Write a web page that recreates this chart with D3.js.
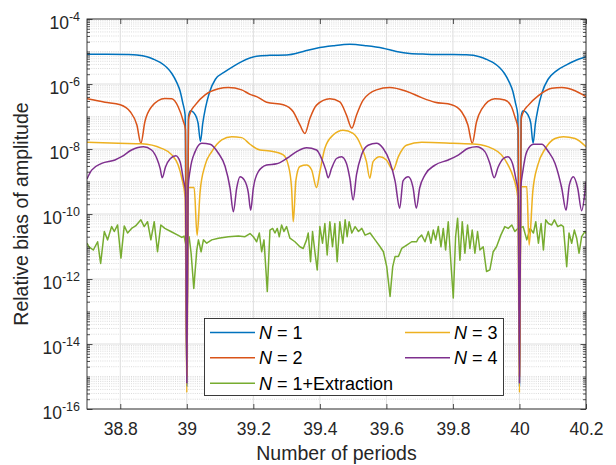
<!DOCTYPE html>
<html>
<head>
<meta charset="utf-8">
<script src="https://cdn.jsdelivr.net/npm/d3@7"></script>
<style>
  body { margin: 0; background: #fff; }
  svg { display: block; font-family: "Liberation Sans", Arial, Helvetica, sans-serif; }
</style>
</head>
<body>
<svg id="chart" width="616" height="465"></svg>
<script>
// ---- axis ticks and labels ----
const xTickValues = [38.8, 39.0, 39.2, 39.4, 39.6, 39.8, 40.0, 40.2];
const xTickLabels = ["38.8", "39", "39.2", "39.4", "39.6", "39.8", "40", "40.2"];
const yTickExponents = [-16, -14, -12, -10, -8, -6, -4];

// ---- series: [number of periods, relative bias of amplitude] ----
const seriesN1 = [
  [38.700, 8.3e-6], [38.760, 8.3e-6], [38.820, 8.1e-6], [38.850, 7.8e-6], [38.880, 6.9e-6],
  [38.900, 5.8e-6], [38.920, 4.6e-6], [38.940, 3.2e-6], [38.955, 2.1e-6], [38.970, 1.1e-6],
  [38.980, 6.0e-7], [38.988, 2.6e-7], [38.995, 1.1e-7], [39.000, 5.0e-16], [39.005, 1.0e-7],
  [39.011, 1.5e-7], [39.026, 1.1e-7], [39.034, 6.2e-8], [39.041, 1.7e-8], [39.048, 6.2e-8],
  [39.056, 1.8e-7], [39.068, 5.5e-7], [39.086, 1.4e-6], [39.115, 2.4e-6], [39.140, 3.5e-6],
  [39.165, 4.9e-6], [39.210, 7.2e-6], [39.250, 7.6e-6], [39.300, 7.8e-6], [39.350, 1.0e-5],
  [39.390, 1.26e-5], [39.440, 1.5e-5], [39.490, 1.66e-5], [39.540, 1.5e-5], [39.590, 1.26e-5],
  [39.630, 1.0e-5], [39.670, 8.7e-6], [39.720, 8.3e-6], [39.780, 8.1e-6], [39.840, 7.9e-6],
  [39.880, 6.9e-6], [39.900, 5.8e-6], [39.920, 4.6e-6], [39.940, 3.2e-6], [39.955, 2.1e-6],
  [39.970, 1.1e-6], [39.980, 6.0e-7], [39.988, 2.6e-7], [39.995, 1.1e-7], [40.000, 5.0e-16],
  [40.005, 1.0e-7], [40.011, 1.5e-7], [40.026, 1.1e-7], [40.034, 6.2e-8], [40.041, 1.5e-8],
  [40.048, 6.2e-8], [40.056, 1.8e-7], [40.068, 5.5e-7], [40.086, 1.4e-6], [40.110, 2.5e-6],
  [40.140, 3.8e-6], [40.165, 5.1e-6], [40.200, 6.9e-6]
];

const seriesN2 = [
  [38.700, 3.5e-7], [38.754, 2.75e-7], [38.800, 2.3e-7], [38.830, 1.4e-7], [38.850, 5.5e-8],
  [38.862, 1.5e-8], [38.874, 6.9e-8], [38.894, 2.0e-7], [38.934, 3.6e-7], [38.955, 3.5e-7],
  [38.974, 2.0e-7], [38.990, 6.9e-8], [38.996, 4.0e-8], [39.000, 1.0e-15], [39.005, 7.9e-8],
  [39.010, 1.26e-7], [39.025, 2.24e-7], [39.055, 4.6e-7], [39.095, 7.1e-7], [39.125, 7.8e-7],
  [39.165, 6.6e-7], [39.190, 4.8e-7], [39.210, 4.1e-7], [39.240, 2.75e-7], [39.290, 2.3e-7],
  [39.320, 1.4e-7], [39.340, 5.5e-8], [39.355, 3.0e-8], [39.370, 8.7e-8], [39.390, 2.24e-7],
  [39.430, 3.5e-7], [39.460, 2.8e-7], [39.480, 1.1e-7], [39.496, 4.4e-8], [39.510, 1.1e-7],
  [39.530, 3.2e-7], [39.570, 6.6e-7], [39.610, 7.8e-7], [39.660, 6.0e-7], [39.706, 3.8e-7],
  [39.746, 2.75e-7], [39.796, 2.3e-7], [39.826, 1.4e-7], [39.845, 5.5e-8], [39.858, 1.5e-8],
  [39.871, 6.9e-8], [39.886, 1.66e-7], [39.926, 3.5e-7], [39.956, 3.2e-7], [39.976, 2.0e-7],
  [39.986, 1.0e-7], [39.996, 4.0e-8], [40.000, 1.0e-15], [40.005, 7.9e-8], [40.010, 1.26e-7],
  [40.027, 2.24e-7], [40.057, 4.4e-7], [40.097, 7.4e-7], [40.127, 7.8e-7], [40.167, 6.2e-7],
  [40.200, 4.1e-7]
];

const seriesN3 = [
  [38.700, 1.6e-8], [38.794, 1.5e-8], [38.864, 1.45e-8], [38.924, 1.05e-8], [38.955, 6.6e-9],
  [38.974, 3.2e-9], [38.985, 1.26e-9], [38.995, 3.2e-10], [39.000, 3.2e-16], [39.005, 6.5e-10],
  [39.022, 6.5e-10], [39.031, 2.2e-11], [39.040, 4.9e-10], [39.055, 3.2e-9], [39.075, 8.3e-9],
  [39.105, 1.9e-8], [39.135, 2.4e-8], [39.165, 2.24e-8], [39.190, 1.4e-8], [39.220, 9.3e-9],
  [39.250, 8.7e-9], [39.290, 6.6e-9], [39.305, 3.2e-9], [39.315, 6.2e-10], [39.320, 5.8e-11],
  [39.328, 1.1e-9], [39.340, 2.9e-9], [39.360, 3.2e-9], [39.375, 2.3e-9], [39.390, 6.5e-10],
  [39.400, 2.0e-9], [39.415, 1.05e-8], [39.440, 2.7e-8], [39.470, 3.8e-8], [39.500, 3.0e-8],
  [39.525, 1.17e-8], [39.540, 4.1e-9], [39.550, 1.26e-9], [39.560, 4.1e-9], [39.580, 5.8e-9],
  [39.600, 4.6e-9], [39.620, 2.24e-9], [39.636, 5.8e-9], [39.660, 1.3e-8], [39.706, 1.6e-8],
  [39.800, 1.5e-8], [39.870, 1.4e-8], [39.917, 1.05e-8], [39.946, 6.6e-9], [39.966, 3.2e-9],
  [39.981, 1.4e-9], [39.995, 3.2e-10], [40.000, 3.2e-16], [40.005, 6.9e-10], [40.022, 6.9e-10],
  [40.029, 1.1e-11], [40.040, 4.9e-10], [40.055, 3.2e-9], [40.077, 1.0e-8], [40.107, 2.1e-8],
  [40.132, 2.4e-8], [40.167, 2.1e-8], [40.200, 1.17e-8]
];

const seriesN4 = [
  [38.700, 1.2e-9], [38.714, 2.24e-9], [38.744, 3.6e-9], [38.784, 4.6e-9], [38.804, 5.8e-9],
  [38.834, 9.3e-9], [38.870, 1.17e-8], [38.894, 9.3e-9], [38.910, 5.1e-9], [38.920, 2.5e-9],
  [38.926, 1.3e-9], [38.936, 2.8e-9], [38.950, 5.0e-9], [38.967, 6.2e-9], [38.980, 4.0e-9],
  [38.990, 1.1e-9], [38.996, 5.0e-10], [39.000, 6.3e-16], [39.004, 6.3e-10], [39.010, 2.24e-9],
  [39.025, 8.3e-9], [39.045, 1.5e-8], [39.070, 1.4e-8], [39.095, 7.4e-9], [39.115, 2.95e-9],
  [39.130, 6.3e-10], [39.140, 1.17e-10], [39.150, 6.3e-10], [39.160, 1.4e-9], [39.173, 1.1e-9],
  [39.185, 4.5e-10], [39.192, 1.3e-10], [39.200, 6.3e-10], [39.215, 2.0e-9], [39.240, 3.2e-9],
  [39.270, 3.5e-9], [39.300, 5.1e-9], [39.330, 8.3e-9], [39.360, 1.1e-8], [39.390, 9.3e-9],
  [39.405, 5.1e-9], [39.418, 2.24e-9], [39.425, 1.3e-9], [39.435, 2.5e-9], [39.450, 5.1e-9],
  [39.465, 5.8e-9], [39.480, 3.6e-9], [39.490, 1.26e-9], [39.500, 2.7e-10], [39.510, 1.6e-9],
  [39.525, 6.5e-9], [39.545, 1.3e-8], [39.570, 1.5e-8], [39.590, 1.05e-8], [39.610, 4.1e-9],
  [39.626, 1.05e-9], [39.640, 1.5e-10], [39.650, 1.05e-9], [39.666, 1.4e-9], [39.680, 6.6e-10],
  [39.690, 1.5e-10], [39.700, 6.3e-10], [39.716, 1.6e-9], [39.746, 3.2e-9], [39.786, 4.6e-9],
  [39.816, 6.5e-9], [39.846, 1.05e-8], [39.871, 1.17e-8], [39.896, 8.3e-9], [39.911, 3.6e-9],
  [39.924, 1.3e-9], [39.936, 2.8e-9], [39.951, 5.0e-9], [39.965, 5.8e-9], [39.979, 3.6e-9],
  [39.990, 1.1e-9], [39.996, 5.0e-10], [40.000, 6.3e-16], [40.004, 6.3e-10], [40.010, 2.0e-9],
  [40.022, 8.3e-9], [40.042, 1.4e-8], [40.067, 1.4e-8], [40.087, 8.3e-9], [40.107, 3.6e-9],
  [40.127, 6.3e-10], [40.140, 1.3e-10], [40.150, 7.9e-10], [40.162, 1.4e-9], [40.175, 6.3e-10],
  [40.187, 1.26e-10], [40.197, 5.0e-10], [40.200, 1.0e-9]
];

const seriesExtraction = [
  [38.700, 1.26e-11], [38.706, 9.8e-12], [38.719, 7.8e-12], [38.732, 1.4e-11], [38.741, 3.0e-12],
  [38.752, 2.9e-11], [38.762, 1.6e-11], [38.774, 4.1e-11], [38.782, 2.9e-11], [38.792, 4.6e-11],
  [38.802, 4.4e-12], [38.812, 4.3e-11], [38.822, 2.6e-11], [38.834, 3.6e-11], [38.846, 4.3e-11],
  [38.862, 6.6e-11], [38.872, 4.1e-11], [38.882, 5.8e-11], [38.892, 1.6e-11], [38.902, 5.8e-11],
  [38.912, 6.9e-12], [38.922, 4.6e-11], [38.934, 3.6e-11], [38.952, 2.9e-11], [38.973, 2.24e-11],
  [38.985, 1.9e-11], [38.992, 2.1e-11], [38.999, 8.7e-12], [39.007, 2.0e-11], [39.013, 6.2e-12],
  [39.021, 5.1e-13], [39.030, 7.8e-12], [39.035, 1.6e-11], [39.043, 6.9e-12], [39.050, 1.6e-11],
  [39.060, 1.26e-11], [39.075, 1.6e-11], [39.095, 1.8e-11], [39.125, 2.0e-11], [39.155, 2.1e-11],
  [39.175, 2.0e-11], [39.190, 2.5e-11], [39.200, 2.0e-11], [39.210, 1.4e-11], [39.218, 2.6e-11],
  [39.225, 6.9e-12], [39.232, 1.6e-11], [39.242, 4.1e-13], [39.250, 3.2e-11], [39.258, 3.6e-11],
  [39.265, 2.6e-11], [39.272, 3.6e-11], [39.278, 2.0e-11], [39.285, 4.6e-11], [39.292, 2.9e-11],
  [39.300, 4.1e-11], [39.310, 1.8e-11], [39.325, 1.4e-11], [39.340, 9.8e-12], [39.350, 8.7e-12],
  [39.360, 1.6e-11], [39.365, 2.6e-11], [39.372, 3.4e-12], [39.378, 2.9e-11], [39.385, 6.9e-12],
  [39.392, 1.9e-12], [39.400, 4.1e-11], [39.408, 1.26e-11], [39.415, 5.1e-11], [39.422, 5.5e-12],
  [39.430, 5.8e-11], [39.438, 9.8e-12], [39.445, 5.1e-11], [39.452, 3.4e-12], [39.460, 5.8e-11],
  [39.469, 1.26e-11], [39.476, 6.6e-11], [39.482, 2.0e-11], [39.488, 5.8e-11], [39.496, 2.6e-11],
  [39.506, 4.1e-11], [39.516, 2.9e-11], [39.526, 3.6e-11], [39.536, 2.24e-11], [39.551, 2.6e-11],
  [39.566, 1.6e-11], [39.581, 9.8e-12], [39.591, 6.9e-12], [39.601, 2.4e-12], [39.611, 2.9e-13],
  [39.619, 2.4e-12], [39.626, 4.9e-12], [39.636, 4.9e-12], [39.646, 8.7e-12], [39.661, 1.1e-11],
  [39.676, 1.4e-11], [39.691, 1.4e-11], [39.696, 1.8e-11], [39.706, 2.24e-11], [39.716, 1.4e-11],
  [39.726, 2.9e-11], [39.734, 1.26e-11], [39.741, 3.2e-11], [39.748, 1.6e-11], [39.756, 4.1e-11],
  [39.764, 9.8e-12], [39.771, 3.6e-11], [39.778, 7.8e-12], [39.786, 5.8e-11], [39.794, 3.0e-12],
  [39.801, 2.6e-13], [39.808, 2.0e-11], [39.814, 7.4e-11], [39.821, 3.8e-12], [39.828, 5.8e-11],
  [39.836, 6.2e-12], [39.844, 4.6e-11], [39.851, 8.7e-12], [39.858, 3.2e-11], [39.866, 6.2e-12],
  [39.874, 2.9e-11], [39.881, 7.8e-12], [39.891, 9.8e-12], [39.901, 1.7e-12], [39.911, 1.9e-12],
  [39.921, 6.9e-12], [39.931, 9.8e-12], [39.944, 2.24e-11], [39.956, 4.1e-11], [39.966, 3.6e-11],
  [39.977, 4.6e-11], [39.986, 2.9e-11], [39.995, 3.6e-11], [40.011, 4.1e-11], [40.022, 1.6e-11],
  [40.032, 3.6e-11], [40.042, 2.6e-11], [40.049, 5.8e-11], [40.057, 1.26e-11], [40.065, 5.1e-11],
  [40.072, 7.8e-12], [40.079, 6.6e-11], [40.087, 5.1e-11], [40.097, 4.6e-11], [40.105, 6.6e-11],
  [40.115, 4.1e-11], [40.125, 4.6e-11], [40.132, 4.1e-11], [40.142, 2.4e-12], [40.149, 2.6e-11],
  [40.157, 1.26e-11], [40.165, 3.2e-11], [40.172, 1.8e-11], [40.179, 6.2e-12], [40.187, 2.0e-11],
  [40.197, 2.9e-11], [40.200, 2.5e-11]
];

// ---- layout ----
const svg = d3.select("#chart");
const plot = { left: 87, right: 586, top: 19, bottom: 409 };

const x = d3.scaleLinear().domain([38.7, 40.2]).range([plot.left, plot.right]);
const y = d3.scaleLog().domain([1e-16, 1e-4]).range([plot.bottom, plot.top]);

const axisColor = "#262626";
const majorYTicks = yTickExponents.map(e => Math.pow(10, e));
const minorYTicks = [];
for (let e = -16; e < -4; e++) {
  for (let k = 1; k <= 9; k++) {
    if (k === 1 && e % 2 === 0) continue;
    minorYTicks.push(k * Math.pow(10, e));
  }
}

// ---- grid ----
const grid = svg.append("g");
grid.selectAll("line.minor-y").data(minorYTicks).join("line")
  .attr("x1", plot.left).attr("x2", plot.right)
  .attr("y1", d => y(d)).attr("y2", d => y(d))
  .attr("stroke", "#c4c4c4").attr("stroke-width", 0.6)
  .attr("stroke-dasharray", "1,1.2");
grid.selectAll("line.major-y").data(majorYTicks).join("line")
  .attr("x1", plot.left).attr("x2", plot.right)
  .attr("y1", d => y(d)).attr("y2", d => y(d))
  .attr("stroke", "#dedede").attr("stroke-width", 1);
grid.selectAll("line.major-x").data(xTickValues).join("line")
  .attr("x1", d => x(d)).attr("x2", d => x(d))
  .attr("y1", plot.top).attr("y2", plot.bottom)
  .attr("stroke", "#dedede").attr("stroke-width", 1);

// ---- curves ----
svg.append("clipPath").attr("id", "plot-clip")
  .append("rect")
  .attr("x", plot.left).attr("y", plot.top)
  .attr("width", plot.right - plot.left).attr("height", plot.bottom - plot.top);

const smoothLine = d3.line().x(d => x(d[0])).y(d => y(d[1])).curve(d3.curveMonotoneX);
const straightLine = d3.line().x(d => x(d[0])).y(d => y(d[1]));
const curves = [
  { data: seriesN1, color: "#0072BD", gen: smoothLine },
  { data: seriesN2, color: "#D95319", gen: smoothLine },
  { data: seriesExtraction, color: "#77AC30", gen: straightLine },
  { data: seriesN3, color: "#EDB120", gen: smoothLine },
  { data: seriesN4, color: "#7E2F8E", gen: smoothLine }
];
const curveLayer = svg.append("g").attr("clip-path", "url(#plot-clip)");
curveLayer.selectAll("path").data(curves).join("path")
  .attr("d", d => d.gen(d.data))
  .attr("fill", "none")
  .attr("stroke", d => d.color)
  .attr("stroke-width", 1.5)
  .attr("stroke-linejoin", "round");

// ---- axes ----
function styleAxis(g) {
  g.select(".domain").remove();
  g.selectAll(".tick line").attr("stroke", axisColor).attr("stroke-width", 0.8);
}

// bottom x axis with labels
const xAxis = svg.append("g").attr("transform", `translate(0,${plot.bottom})`)
  .call(d3.axisBottom(x).tickValues(xTickValues)
    .tickFormat((d, i) => xTickLabels[i]).tickSizeInner(-5).tickSizeOuter(0))
  .call(styleAxis);
xAxis.selectAll(".tick text")
  .attr("y", 26).attr("dy", null)
  .attr("fill", axisColor)
  .style("font-size", "17.5px")
  .style("font-family", "'Liberation Sans', Arial, sans-serif");

// top x axis (ticks only)
svg.append("g").attr("transform", `translate(0,${plot.top})`)
  .call(d3.axisTop(x).tickValues(xTickValues).tickFormat("").tickSizeInner(-5).tickSizeOuter(0))
  .call(styleAxis);

// left y axis: minor ticks, then major ticks with labels
svg.append("g").attr("transform", `translate(${plot.left},0)`)
  .call(d3.axisLeft(y).tickValues(minorYTicks).tickFormat("").tickSizeInner(-3).tickSizeOuter(0))
  .call(styleAxis);
const yAxis = svg.append("g").attr("transform", `translate(${plot.left},0)`)
  .call(d3.axisLeft(y).tickValues(majorYTicks).tickFormat("").tickSizeInner(-5.5).tickSizeOuter(0))
  .call(styleAxis);
yAxis.selectAll(".tick text").each(function (d, i) {
  const t = d3.select(this)
    .attr("x", -7).attr("y", 9).attr("dy", null)
    .attr("text-anchor", "end")
    .attr("fill", axisColor)
    .style("font-family", "'Liberation Sans', Arial, sans-serif");
  t.text(null);
  t.append("tspan").style("font-size", "17.5px").text("10");
  t.append("tspan").style("font-size", "12.5px").attr("dy", -8).text(String(yTickExponents[i]));
});

// right y axis (ticks only)
svg.append("g").attr("transform", `translate(${plot.right},0)`)
  .call(d3.axisRight(y).tickValues(minorYTicks).tickFormat("").tickSizeInner(-3).tickSizeOuter(0))
  .call(styleAxis);
svg.append("g").attr("transform", `translate(${plot.right},0)`)
  .call(d3.axisRight(y).tickValues(majorYTicks).tickFormat("").tickSizeInner(-5.5).tickSizeOuter(0))
  .call(styleAxis);

// box
svg.append("rect")
  .attr("x", plot.left).attr("y", plot.top)
  .attr("width", plot.right - plot.left).attr("height", plot.bottom - plot.top)
  .attr("fill", "none").attr("stroke", axisColor).attr("stroke-width", 0.9);

// axis titles
svg.append("text")
  .attr("x", (plot.left + plot.right) / 2).attr("y", 460)
  .attr("text-anchor", "middle").attr("fill", axisColor)
  .style("font-size", "19.5px")
  .text("Number of periods");
svg.append("text")
  .attr("transform", `translate(28,${(plot.top + plot.bottom) / 2}) rotate(-90)`)
  .attr("text-anchor", "middle").attr("fill", axisColor)
  .style("font-size", "19.5px")
  .text("Relative bias of amplitude");

// ---- legend ----
const legendItems = [
  { label: "1", color: "#0072BD", col: 0, row: 0 },
  { label: "2", color: "#D95319", col: 0, row: 1 },
  { label: "1+Extraction", color: "#77AC30", col: 0, row: 2 },
  { label: "3", color: "#EDB120", col: 1, row: 0 },
  { label: "4", color: "#7E2F8E", col: 1, row: 1 }
];
const legend = svg.append("g");
legend.append("rect")
  .attr("x", 204.5).attr("y", 318.5).attr("width", 299).attr("height", 77)
  .attr("fill", "#fff").attr("stroke", axisColor).attr("stroke-width", 0.9);
const colX = [210, 405];
const rowY = [332.5, 357.8, 383.2];
const entries = legend.selectAll("g.entry").data(legendItems).join("g")
  .attr("transform", d => `translate(${colX[d.col]},${rowY[d.row]})`);
entries.append("line")
  .attr("x1", 0).attr("x2", 45).attr("y1", 0).attr("y2", 0)
  .attr("stroke", d => d.color).attr("stroke-width", 1.5);
const lt = entries.append("text")
  .attr("x", 49).attr("y", 6.5)
  .attr("fill", "#000")
  .style("font-size", "18px");
lt.append("tspan").style("font-style", "italic").text("N");
lt.append("tspan").text(d => " = " + d.label);
</script>
</body>
</html>
